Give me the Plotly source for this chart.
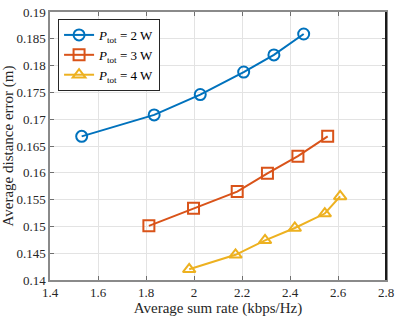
import plotly.graph_objects as go

# Data
rate_2W = [1.532, 1.834, 2.026, 2.207, 2.333, 2.457]
err_2W = [0.1668, 0.1708, 0.1746, 0.1788, 0.1820, 0.1859]
rate_3W = [1.812, 1.998, 2.180, 2.306, 2.433, 2.557]
err_3W = [0.1501, 0.1534, 0.1565, 0.1599, 0.1631, 0.1668]
rate_4W = [1.980, 2.173, 2.296, 2.420, 2.545, 2.609]
err_4W = [0.1420, 0.1447, 0.1474, 0.1497, 0.1524, 0.1556]

x_ticks = [1.4, 1.6, 1.8, 2.0, 2.2, 2.4, 2.6, 2.8]
x_tick_labels = ["1.4", "1.6", "1.8", "2", "2.2", "2.4", "2.6", "2.8"]
y_ticks = [0.14, 0.145, 0.15, 0.155, 0.16, 0.165, 0.17, 0.175, 0.18, 0.185, 0.19]
y_tick_labels = ["0.14", "0.145", "0.15", "0.155", "0.16", "0.165", "0.17",
                 "0.175", "0.18", "0.185", "0.19"]

FONT = "Liberation Serif"

series = [
    (rate_2W, err_2W, "<i>P</i><sub>tot</sub> = 2 W", "#0072BD", "circle-open"),
    (rate_3W, err_3W, "<i>P</i><sub>tot</sub> = 3 W", "#D95319", "square-open"),
    (rate_4W, err_4W, "<i>P</i><sub>tot</sub> = 4 W", "#EDB120", "triangle-up-open"),
]

fig = go.Figure()
for x, y, name, color, sym in series:
    fig.add_trace(go.Scatter(
        x=x, y=y, name=name, mode="lines+markers",
        line=dict(color=color, width=2),
        marker=dict(symbol=sym, size=11, color=color, line=dict(width=2, color=color)),
    ))

axis_common = dict(
    showgrid=True, gridcolor="#e3e3e3", gridwidth=1,
    showline=True, linecolor="#8a8a8a", linewidth=1.5, mirror="ticks",
    ticks="inside", ticklen=4, tickcolor="#6f6f6f",
    tickfont=dict(family=FONT, size=13, color="#262626"),
    ticklabeloverflow="allow",
    zeroline=False,
)

fig.update_layout(
    width=399, height=317,
    margin=dict(l=49, r=10, t=5, b=36),
    paper_bgcolor="white", plot_bgcolor="white",
    font=dict(family=FONT, color="#262626"),
    xaxis=dict(range=[1.4, 2.8], tickvals=x_ticks, ticktext=x_tick_labels,
               title=dict(text="Average sum rate (kbps/Hz)", font=dict(size=15), standoff=1),
               **axis_common),
    yaxis=dict(range=[0.14, 0.19], tickvals=y_ticks, ticktext=y_tick_labels,
               title=dict(text="Average distance error (m)", font=dict(size=15), standoff=1),
               **axis_common),
    legend=dict(x=0.024, y=0.974, xanchor="left", yanchor="top",
                bgcolor="white", bordercolor="#262626", borderwidth=1,
                font=dict(family=FONT, size=13, color="#000000"),
                tracegroupgap=0, itemwidth=30),
    showlegend=True,
)

# dark right-hand frame edge, as in the reference
fig.add_shape(type="line", xref="paper", yref="paper", x0=1, x1=1, y0=0, y1=1,
              line=dict(color="#1a1a1a", width=2))

fig.write_html("out.html", config={"displayModeBar": False},
               post_script="document.body.style.margin='0';")
